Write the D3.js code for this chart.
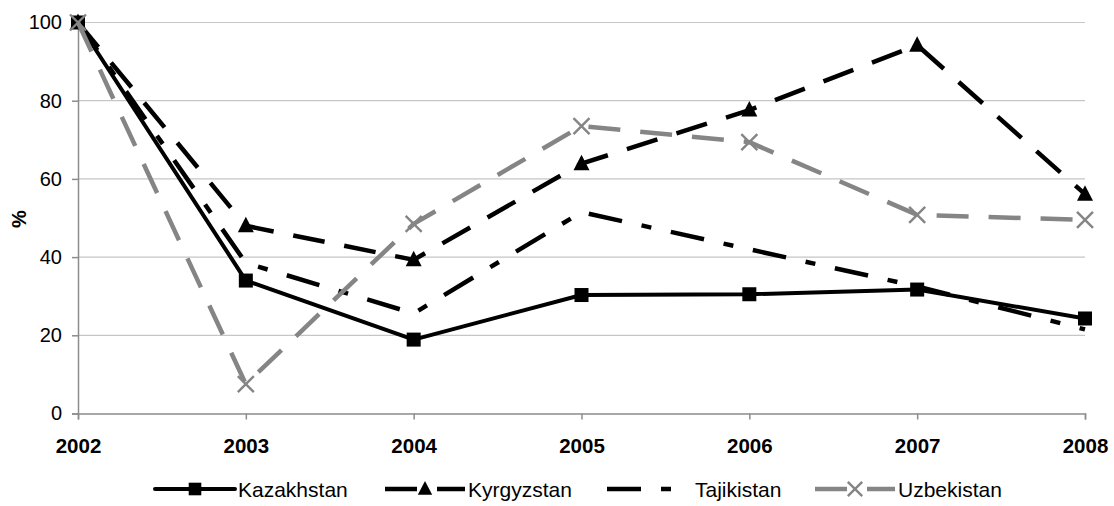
<!DOCTYPE html>
<html><head><meta charset="utf-8">
<script src="https://cdn.jsdelivr.net/npm/d3@7"></script>
<style>
html,body{margin:0;padding:0;background:#fff;}
svg{display:block;font-family:"Liberation Sans",Arial,sans-serif;}
</style></head>
<body><svg id="c" width="1114" height="506"></svg>
<script>
const years = ["2002","2003","2004","2005","2006","2007","2008"];
const yTicks = [0,20,40,60,80,100];
const kazakhstan = [100,34,18.9,30.3,30.5,31.7,24.3];
const kyrgyzstan = [100,48,39.3,63.9,77.6,94.2,56.1];
const tajikistan = [100,38.5,25.6,51.5,42,32.5,21.5];
const uzbekistan = [100,7.5,48.5,73.5,69.4,50.8,49.5];
const seriesNames = ["Kazakhstan","Kyrgyzstan","Tajikistan","Uzbekistan"];

const series = [
  {name:seriesNames[0], values:kazakhstan, color:"#000", dash:null, width:4, marker:"square", cap:"round"},
  {name:seriesNames[1], values:kyrgyzstan, color:"#000", dash:"32,20", width:4.5, marker:"triangle", cap:"butt"},
  {name:seriesNames[2], values:tajikistan, color:"#000", dash:"34,20,10,20", width:4.5, marker:null, cap:"butt"},
  {name:seriesNames[3], values:uzbekistan, color:"#858585", dash:"32,20", width:4.5, marker:"x", cap:"butt"}
];

const svg = d3.select("#c");
const x = d3.scalePoint().domain(years).range([78,1085]);
const y = d3.scaleLinear().domain([0,100]).range([413.5,22.5]);

// gridlines
svg.append("g").selectAll("line").data(yTicks.filter(d=>d>0)).join("line")
  .attr("x1",78).attr("x2",1085).attr("y1",d=>y(d)).attr("y2",d=>y(d))
  .attr("stroke","#c6c6c6").attr("stroke-width",1.2);

// y axis
const ya = svg.append("g").attr("transform","translate(78,0)")
  .call(d3.axisLeft(y).tickValues(yTicks).tickSize(6).tickPadding(10));
ya.select(".domain").attr("stroke","#8c8c8c").attr("stroke-width",1.5);
ya.selectAll(".tick line").attr("stroke","#8c8c8c").attr("stroke-width",1.5);
ya.selectAll(".tick text").attr("font-size",20).attr("fill","#000")
  .attr("font-family","Liberation Sans, Arial, sans-serif");

// x axis
const xa = svg.append("g").attr("transform","translate(0,413.5)")
  .call(d3.axisBottom(x).tickSize(6).tickPadding(19));
xa.select(".domain").attr("stroke","#8c8c8c").attr("stroke-width",1.5);
xa.selectAll(".tick line").attr("stroke","#8c8c8c").attr("stroke-width",1.5);
xa.selectAll(".tick text").attr("font-size",20.5).attr("font-weight","bold").attr("fill","#000")
  .attr("font-family","Liberation Sans, Arial, sans-serif");

// y label
svg.append("text").attr("transform","translate(26,219) rotate(-90)")
  .attr("text-anchor","middle").attr("font-size",20).attr("font-weight","bold").text("%");

const line = d3.line().x((d,i)=>x(years[i])).y(d=>y(d));

function drawMarker(g, type, cx, cy, color, s){
  s = s || 1;
  if(type==="square"){
    const h = 7*s;
    g.append("rect").attr("x",cx-h).attr("y",cy-h).attr("width",2*h).attr("height",2*h).attr("fill",color);
  } else if(type==="triangle"){
    g.append("path").attr("d",`M${cx},${cy-9*s}L${cx+8*s},${cy+6.5*s}L${cx-8*s},${cy+6.5*s}Z`).attr("fill",color);
  } else if(type==="x"){
    const h = 8*s;
    g.append("path").attr("d",`M${cx-h},${cy-h}L${cx+h},${cy+h}M${cx-h},${cy+h}L${cx+h},${cy-h}`)
      .attr("stroke",color).attr("stroke-width",2.4).attr("fill","none");
  }
}

series.forEach(s=>{
  const g = svg.append("g");
  g.append("path").attr("d",line(s.values)).attr("fill","none")
    .attr("stroke",s.color).attr("stroke-width",s.width)
    .attr("stroke-dasharray",s.dash).attr("stroke-linejoin","round");
  s.values.forEach((v,i)=>drawMarker(g,s.marker,x(years[i]),y(v),s.color,1));
});

// legend
const legendX = [155,385,607,815];
const ly = 489;
series.forEach((s,i)=>{
  const g = svg.append("g");
  const x0 = legendX[i], x1 = x0+80;
  g.append("line").attr("x1",x0).attr("x2",x1).attr("y1",ly).attr("y2",ly)
    .attr("stroke",s.color).attr("stroke-width",s.width).attr("stroke-dasharray",s.dash)
    .attr("stroke-linecap",s.cap);
  drawMarker(g,s.marker,(x0+x1)/2,ly,s.color,0.9);
  g.append("text").attr("x",i===2?x1+8:x1+3).attr("y",ly+7.5).attr("font-size",21).text(s.name);
});
</script></body></html>
